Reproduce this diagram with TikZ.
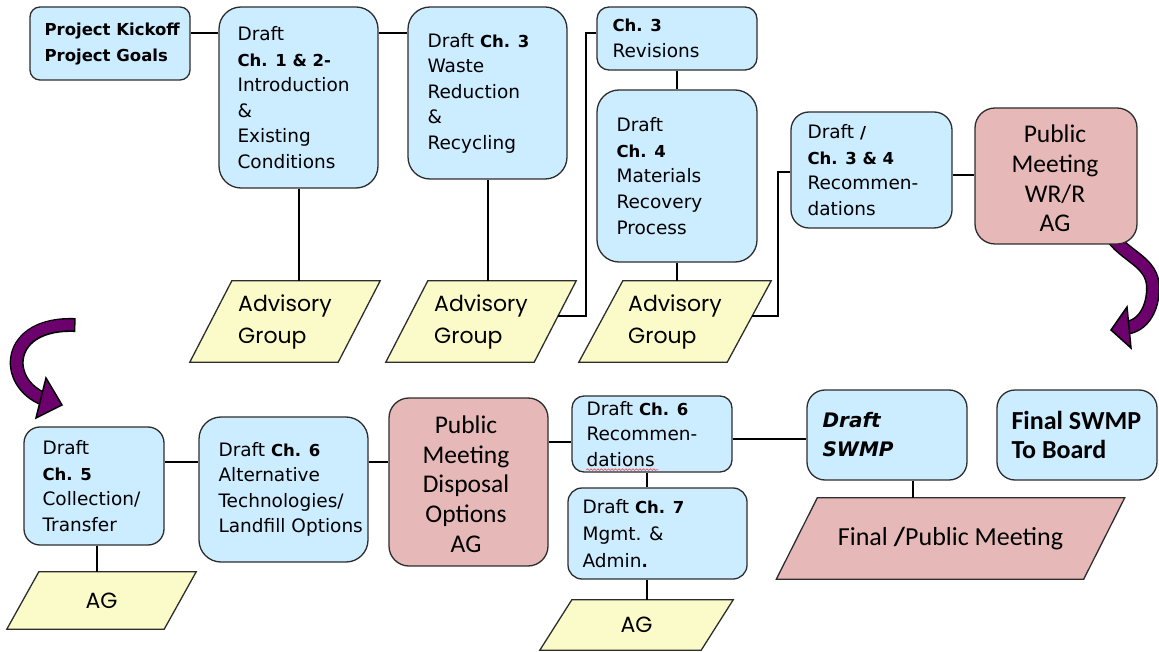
\documentclass[tikz,border=0pt]{standalone}
\usepackage{fontspec}
\setmainfont{DejaVu Sans}
\newfontfamily\carl{Carlito}
\newfontfamily\popf{Poppins}
\usetikzlibrary{backgrounds,decorations.pathmorphing,calc}
\definecolor{boxblue}{RGB}{204,236,255}
\definecolor{boxpink}{RGB}{230,185,184}
\definecolor{boxyellow}{RGB}{251,251,201}
\definecolor{arrpurple}{RGB}{108,0,108}
\definecolor{edgegray}{RGB}{45,45,45}
\newcommand\B[1]{{\fontsize{16.5}{25.5}\selectfont\bfseries #1}}
\newcommand\parashape[3]{\draw[parafill=#3] ([xshift=#2]#1.north west) -- ([xshift=#2]#1.north east) -- ([xshift=-#2]#1.south east) -- ([xshift=-#2]#1.south west) -- cycle;}
\begin{document}
\begin{tikzpicture}[x=1pt,y=-1pt,
  card/.style={draw=edgegray, line width=1.3pt, inner sep=0pt, rectangle},
  bluecard/.style={card, fill=boxblue},
  pinkcard/.style={card, fill=boxpink},
  txt/.style={inner sep=0pt, anchor=west, align=left, font=\fontsize{18.5}{25.5}\selectfont},
  pinktxt/.style={inner sep=0pt, align=center, font=\carl\fontsize{25.5}{29.7}\selectfont},
  paranode/.style={inner sep=0pt, align=left, font=\popf\fontsize{22}{32}\selectfont},
  parafill/.style={draw=edgegray, line width=1.3pt, fill=#1},
  link/.style={draw=black, line width=2pt},
  bandout/.style={draw=black, line width=14pt},
  bandin/.style={draw=arrpurple, line width=11pt},
  arrhead/.style={fill=arrpurple, draw=black, line width=1.5pt, line join=miter},
]
\useasboundingbox (0,0) rectangle (1159,652);

% ---------- top row ----------
\node[bluecard, minimum width=160pt, minimum height=73pt, rounded corners=10pt] (kick) at (110,43.5) {};
\node[txt, font=\bfseries\fontsize{16.5}{26}\selectfont] (kickt) at ([xshift=15pt,yshift=-1pt]kick.west) {Project Kickoff\\Project Goals};

\node[bluecard, minimum width=159pt, minimum height=181pt, rounded corners=22pt] (ch12) at (298.5,97.5) {};
\node[txt] (ch12t) at ([xshift=19pt]ch12.west) {Draft\\\B{Ch. 1 \& 2-}\\Introduction\\\&\\Existing\\Conditions};

\node[bluecard, minimum width=159pt, minimum height=172pt, rounded corners=22pt] (ch3) at (487.5,93) {};
\node[txt] (ch3t) at ([xshift=20pt]ch3.west) {Draft \B{Ch. 3}\\Waste\\Reduction\\\&\\Recycling};

\node[bluecard, minimum width=160pt, minimum height=63pt, rounded corners=12pt] (rev) at (677,38.5) {};
\node[txt, font=\fontsize{18.5}{26}\selectfont] (revt) at ([xshift=16pt]rev.west) {\B{Ch. 3}\\Revisions};

\node[bluecard, minimum width=160pt, minimum height=172pt, rounded corners=22pt] (ch4) at (677,176) {};
\node[txt, font=\fontsize{18.5}{25.8}\selectfont] (ch4t) at ([xshift=20pt]ch4.west) {Draft\\\B{Ch. 4}\\Materials\\Recovery\\Process};

\node[bluecard, minimum width=161pt, minimum height=116pt, rounded corners=18pt] (ch34) at (871.5,170) {};
\node[txt, font=\fontsize{18.5}{25.7}\selectfont] (ch34t) at ([xshift=17pt]ch34.west) {Draft \B{/}\\\B{Ch. 3 \& 4}\\Recommen-\\dations};

\node[pinkcard, minimum width=162pt, minimum height=136pt, rounded corners=20pt] (pm1) at (1056,176) {};
\node[pinktxt] (pm1t) at (1055,178.5) {Public\\Meeting\\WR/R\\AG};

\node[paranode, minimum width=148pt, minimum height=81pt] (A1) at (285,321.5) {Advisory\\Group};
\node[paranode, minimum width=148pt, minimum height=81pt] (A2) at (481,321.5) {Advisory\\Group};
\node[paranode, minimum width=148pt, minimum height=81pt] (A3) at (675,321.5) {Advisory\\Group};

% ---------- bottom row ----------
\node[bluecard, minimum width=140pt, minimum height=118pt, rounded corners=16pt] (ch5) at (94,486) {};
\node[txt, font=\fontsize{18.5}{25.7}\selectfont] (ch5t) at ([xshift=19pt]ch5.west) {Draft\\\B{Ch. 5}\\Collection/\\Transfer};

\node[bluecard, minimum width=169pt, minimum height=145pt, rounded corners=22pt] (ch6alt) at (283.5,489.5) {};
\node[txt] (ch6altt) at ([xshift=20pt]ch6alt.west) {Draft \B{Ch. 6}\\Alternative\\Technologies/\\Landfill Options};

\node[pinkcard, minimum width=159pt, minimum height=168pt, rounded corners=20pt] (pm2) at (468.5,482) {};
\node[pinktxt] (pm2t) at (466,484) {Public\\Meeting\\Disposal\\Options\\AG};

\node[bluecard, minimum width=160pt, minimum height=76pt, rounded corners=12pt] (ch6rec) at (652,434) {};
\node[txt] (ch6rect) at ([xshift=15pt]ch6rec.west) {Draft \B{Ch. 6}\\Recommen-\\dations};

\node[bluecard, minimum width=179pt, minimum height=91pt, rounded corners=14pt] (ch7) at (657.5,533.5) {};
\node[txt, font=\fontsize{18.5}{27}\selectfont] (ch7t) at ([xshift=15pt]ch7.west) {Draft \B{Ch. 7}\\Mgmt. \&\\Admin\B{.}};

\node[bluecard, minimum width=160pt, minimum height=90pt, rounded corners=18pt] (dswmp) at (887,435) {};
\node[txt, font=\bfseries\itshape\fontsize{20}{29}\selectfont] (dswmpt) at ([xshift=16pt]dswmp.west) {Draft\\SWMP};

\node[bluecard, minimum width=160pt, minimum height=90pt, rounded corners=18pt] (fswmp) at (1077,435) {};
\node[txt, font=\carl\bfseries\fontsize{26}{29}\selectfont] (fswmpt) at ([xshift=15pt]fswmp.west) {Final SWMP\\To Board};

\node[paranode, minimum width=157pt, minimum height=57pt] (AG1) at (101.5,600.5) {AG};
\node[paranode, minimum width=161pt, minimum height=50pt] (AG3) at (636.5,625) {AG};
\node[inner sep=0pt, font=\carl\fontsize{26}{30}\selectfont, minimum width=307pt, minimum height=81pt] (FPM) at (950.5,538.5) {Final \textbf{/}Public Meeting};

% ---------- background shapes ----------
\begin{scope}[on background layer]
  \parashape{A1}{21pt}{boxyellow}
  \parashape{A2}{21pt}{boxyellow}
  \parashape{A3}{22pt}{boxyellow}
  \parashape{AG1}{16pt}{boxyellow}
  \parashape{AG3}{16pt}{boxyellow}
  \parashape{FPM}{20.5pt}{boxpink}
  % right curved arrow
  \coordinate (rS) at (1110,234);
  \coordinate (rM) at (1153,288);
  \coordinate (rE) at (1125,328);
  \coordinate (rT) at (1111,330);
  \coordinate (rW1) at (1127,307);
  \coordinate (rW2) at (1131,348);
  \draw[bandout] (rS) to[out=-58, in=90] (rM) to[out=-90, in=5] (rE);
  \draw[bandin] (rS) to[out=-58, in=90] (rM) to[out=-90, in=5] (rE);
  \draw[arrhead] (rW1) -- (rT) -- (rW2) -- cycle;
  % left curved arrow
  \coordinate (lS) at (74,325);
  \coordinate (lE) at (44.7,399.4);
  \coordinate (lT) at (62,405);
  \coordinate (lW1) at (46,378);
  \coordinate (lW2) at (36,418);
  \draw[bandout, shorten <=-1.5pt] (lS) .. controls (5,322) and (2,383) .. (lE);
  \draw[bandin] (lS) .. controls (5,322) and (2,383) .. (lE);
  \draw[arrhead] (lW1) -- (lT) -- (lW2) -- cycle;
\end{scope}

% ---------- connectors ----------
\draw[link] ([yshift=10.5pt]kick.east) -- ([yshift=10.5pt]kick.east -| ch12.west);
\draw[link] ([yshift=10.5pt]kick.east -| ch12.east) -- ([yshift=10.5pt]kick.east -| ch3.west);
\draw[link] (ch12.south) -- (ch12.south |- A1.north);
\draw[link] (ch3.south) -- (ch3.south |- A2.north);
\draw[link] (rev.south) -- (ch4.north);
\draw[link] (ch4.south) -- (ch4.south |- A3.north);
\coordinate (j1) at (586,33);
\coordinate (p2) at ($([xshift=21pt]A2.north east)!0.43!([xshift=-21pt]A2.south east)$);
\draw[link] (p2) -| (j1) -- (j1 -| rev.west);
\coordinate (j2) at (778,172);
\coordinate (p3) at ($([xshift=22pt]A3.north east)!0.43!([xshift=-22pt]A3.south east)$);
\draw[link] (p3) -| (j2) -- (j2 -| ch34.west);
\draw[link] ([yshift=-5pt]ch34.east) -- ([yshift=-5pt]ch34.east -| pm1.west);

\draw[link] ([yshift=24pt]ch5.east) -- ([yshift=24pt]ch5.east -| ch6alt.west);
\draw[link] ([yshift=24pt]ch5.east -| ch6alt.east) -- ([yshift=24pt]ch5.east -| pm2.west);
\draw[link] ([yshift=-8pt]ch6rec.west -| pm2.east) -- ([yshift=-8pt]ch6rec.west);
\draw[link] ([yshift=-5pt]ch6rec.east) -- ([yshift=-5pt]ch6rec.east -| dswmp.west);
\draw[link] ([xshift=3pt]ch5.south) -- ([xshift=3pt]ch5.south |- AG1.north);
\draw[link] ([xshift=-5pt]ch6rec.south) -- ([xshift=-5pt]ch6rec.south |- ch7.north);
\draw[link] ([xshift=-10.5pt]ch7.south) -- ([xshift=-10.5pt]ch7.south |- AG3.north);
\draw[link] ([xshift=26pt]dswmp.south) -- ([xshift=26pt]dswmp.south |- FPM.north);

% spell-check wavy underline
\draw[red!75, line width=0.6pt, decorate, decoration={snake, amplitude=0.8pt, segment length=3.5pt}]
  ([xshift=15pt,yshift=3pt]ch6rec.south west) -- ([xshift=87pt,yshift=3pt]ch6rec.south west);
\end{tikzpicture}
\end{document}
